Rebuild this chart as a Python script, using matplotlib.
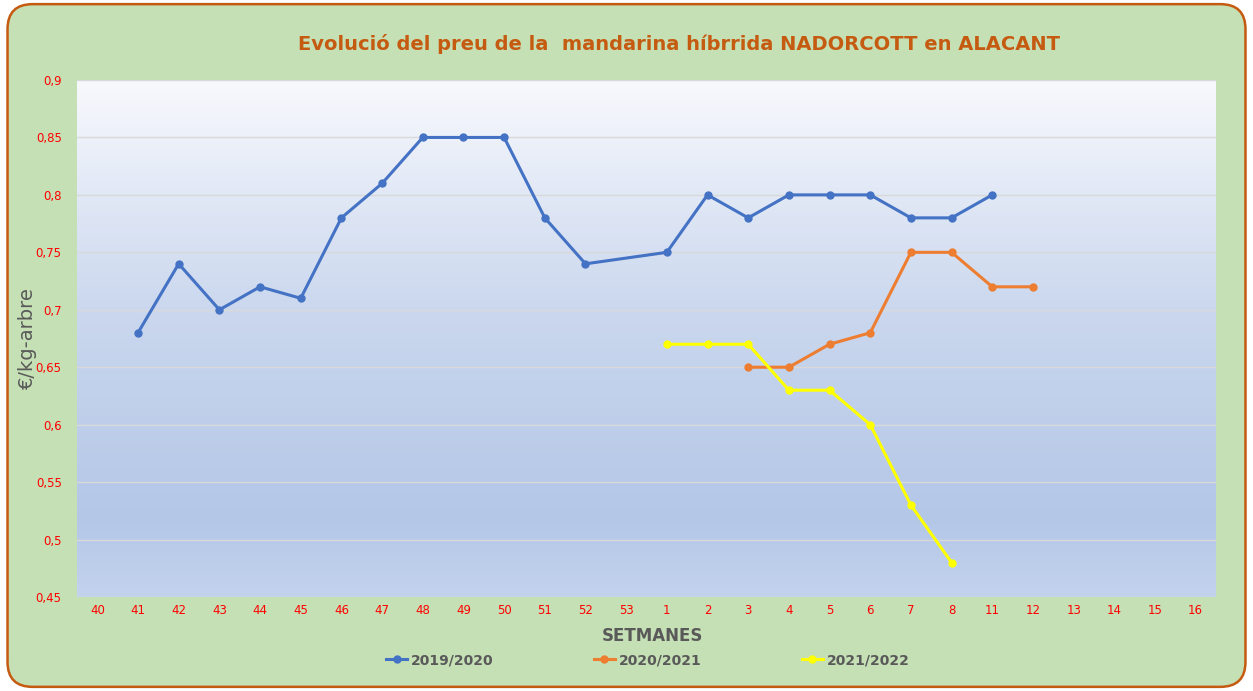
import numpy as np
import matplotlib.pyplot as plt
from matplotlib.patches import FancyBboxPatch
from matplotlib.colors import LinearSegmentedColormap

weeks = ['40', '41', '42', '43', '44', '45', '46', '47', '48', '49', '50', '51', '52', '53',
         '1', '2', '3', '4', '5', '6', '7', '8', '11', '12', '13', '14', '15', '16']

s1920 = [None, 0.68, 0.74, 0.70, 0.72, 0.71, 0.78, 0.81, 0.85, 0.85, 0.85, 0.78, 0.74, None,
         0.75, 0.80, 0.78, 0.80, 0.80, 0.80, 0.78, 0.78, 0.80, None, None, None, None, None]
s2021 = [None] * 16 + [0.65, 0.65, 0.67, 0.68, 0.75, 0.75, 0.72, 0.72, None, None, None, None]
s2122 = [None] * 14 + [0.67, 0.67, 0.67, 0.63, 0.63, 0.60, 0.53, 0.48] + [None] * 6

series = [('2019/2020', s1920, '#4472C4'),
          ('2020/2021', s2021, '#ED7D31'),
          ('2021/2022', s2122, '#FFFF00')]

fig = plt.figure(figsize=(12.53, 6.91), dpi=100)
fig.patch.set_facecolor('white')

# fons verd amb vora taronja
bg = FancyBboxPatch((0.006, 0.006), 0.988, 0.988, boxstyle='round,pad=0,rounding_size=0.02',
                    transform=fig.transFigure, facecolor='#C5E0B4', edgecolor='#C55A11',
                    linewidth=1.8, mutation_aspect=1253 / 691, zorder=-10)
fig.patches.append(bg)

ax = fig.add_axes([77 / 1253, 1 - 597 / 691, (1216 - 77) / 1253, (597 - 80) / 691])
ax.set_facecolor('none')

grad = LinearSegmentedColormap.from_list('g', [(0, '#F8F9FD'), (0.45, '#CAD7EE'),
                                                 (0.85, '#B4C7E7'), (1, '#C3D3EE')])
ax.imshow(np.linspace(0, 1, 256).reshape(-1, 1), cmap=grad, aspect='auto',
          extent=[-0.5, 27.5, 0.45, 0.9], origin='upper', zorder=0)

x = np.arange(len(weeks))
for name, vals, col in series:
    xs = [i for i, v in zip(x, vals) if v is not None]
    ys = [v for v in vals if v is not None]
    ax.plot(xs, ys, color=col, lw=2.2, marker='o', ms=5, label=name, zorder=3)

ax.set_xlim(-0.5, 27.5)
ax.set_ylim(0.45, 0.9)
yt = np.arange(0.45, 0.901, 0.05)
ax.set_yticks(yt)
ax.set_yticklabels([('%g' % round(v, 2)).replace('.', ',') for v in yt])
ax.set_xticks(x)
ax.set_xticklabels(weeks)
ax.tick_params(axis='both', colors='#FF0000', labelsize=8.5, length=0)
ax.tick_params(axis='x', pad=5)
ax.tick_params(axis='y', pad=11)
ax.grid(axis='y', color='#D9D9D9', lw=1, zorder=1)
ax.set_axisbelow(True)
for sp in ax.spines.values():
    sp.set_visible(False)

fig.text(27 / 1253, 1 - 338 / 691, '€/kg-arbre', rotation=90, fontsize=14,
         color='#595959', ha='center', va='center')
fig.text(652 / 1253, 1 - 636 / 691, 'SETMANES', fontsize=12, fontweight='bold',
         color='#595959', ha='center', va='center')
fig.text(0.542, 0.936, 'Evolució del preu de la  mandarina híbrrida NADORCOTT en ALACANT',
         ha='center', va='center', fontsize=14, fontweight='bold', color='#C55A11')

ax.legend(loc='center', bbox_to_anchor=(648 / 1253, 1 - 660 / 691),
          bbox_transform=fig.transFigure, ncol=3, frameon=False,
          labelcolor='#595959', columnspacing=7.2, handlelength=1.5,
          handletextpad=0.3, prop={'weight': 'bold', 'size': 10})

fig.savefig('out.png', dpi=100, facecolor=fig.get_facecolor())
